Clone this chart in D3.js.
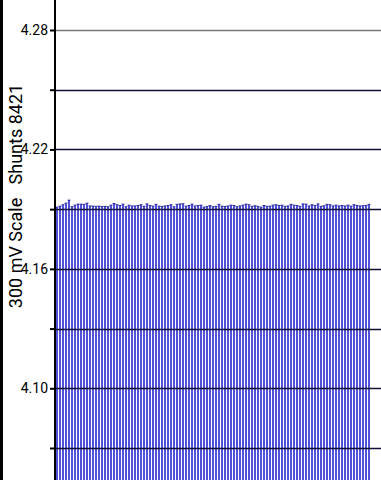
<!DOCTYPE html>
<html>
<head>
<meta charset="utf-8">
<script src="https://cdn.jsdelivr.net/npm/d3@7"></script>
<style>
  body { margin: 0; background: #fff; }
  svg { display: block; font-family: Roboto, "Noto Sans", sans-serif; }
</style>
</head>
<body>
<svg width="381" height="480"></svg>
<script>
var svg = d3.select("svg");
var width = +svg.attr("width"),
    height = +svg.attr("height");

// cell voltages
var voltages = [
  4.1910, 4.1915, 4.1922, 4.1930, 4.1945, 4.1912, 4.1920, 4.1925, 4.1925, 4.1924,
  4.1930, 4.1916, 4.1915, 4.1914, 4.1915, 4.1913, 4.1914, 4.1912, 4.1920, 4.1928,
  4.1922, 4.1918, 4.1925, 4.1912, 4.1920, 4.1916, 4.1916, 4.1918, 4.1922, 4.1914,
  4.1926, 4.1918, 4.1915, 4.1924, 4.1915, 4.1913, 4.1916, 4.1918, 4.1922, 4.1912,
  4.1924, 4.1926, 4.1927, 4.1915, 4.1918, 4.1925, 4.1916, 4.1918, 4.1920, 4.1910,
  4.1913, 4.1918, 4.1912, 4.1914, 4.1924, 4.1915, 4.1913, 4.1916, 4.1920, 4.1918,
  4.1912, 4.1916, 4.1920, 4.1925, 4.1922, 4.1914, 4.1917, 4.1914, 4.1910, 4.1918,
  4.1914, 4.1915, 4.1920, 4.1922, 4.1918, 4.1920, 4.1914, 4.1916, 4.1924, 4.1920,
  4.1918, 4.1914, 4.1926, 4.1925, 4.1916, 4.1922, 4.1918, 4.1926, 4.1914, 4.1917,
  4.1924, 4.1922, 4.1916, 4.1920, 4.1916, 4.1918, 4.1916, 4.1920, 4.1915, 4.1922,
  4.1918, 4.1916, 4.1917, 4.1918, 4.1924
];
var cells = voltages.map((v, i) => i + 1);

var gridValues = [4.28, 4.25, 4.22, 4.19, 4.16, 4.13, 4.10, 4.07];
var labelValues = [4.28, 4.22, 4.16, 4.10];
var axisTitle = "300 mV Scale   Shunts 8421";

var axisX = 55;

var y = d3.scaleLinear()
    .domain([4.07, 4.28])
    .range([448, 30]);

var x = d3.scaleBand()
    .domain(cells)
    .range([axisX + 1, axisX + 1 + cells.length * 3]);

// black strip on the left edge
svg.append("rect")
    .attr("x", 0).attr("y", 0)
    .attr("width", 3).attr("height", height)
    .style("fill", "#000");

// bars, 2px wide on a 3px pitch
svg.append("g").attr("class", "bars")
    .selectAll("rect")
    .data(voltages).enter()
    .append("rect")
    .attr("x", function(d, i) { return Math.round(x(cells[i])); })
    .attr("y", function(d) { return y(d); })
    .attr("width", 2)
    .attr("height", function(d) { return height - y(d); })
    .style("fill", "#5252d8");

// dark cap on each bar
svg.append("g").attr("class", "caps")
    .selectAll("line")
    .data(voltages).enter()
    .append("line")
    .attr("x1", function(d, i) { return Math.round(x(cells[i])) - 0.5; })
    .attr("x2", function(d, i) { return Math.round(x(cells[i])) + 2.5; })
    .attr("y1", function(d) { return y(d); })
    .attr("y2", function(d) { return y(d); })
    .style("stroke", "#2a2a9a")
    .style("stroke-width", 1);

// grid lines
svg.append("g").attr("class", "grid")
    .selectAll("line")
    .data(gridValues).enter()
    .append("line")
    .attr("x1", axisX).attr("x2", width)
    .attr("y1", function(d) { return Math.round(y(d)) + 0.5; })
    .attr("y2", function(d) { return Math.round(y(d)) + 0.5; })
    .style("stroke", function(d) { return d > 4.26 ? "#777" : "#111133"; })
    .style("stroke-width", 1.3);

// y axis
var axis = svg.append("g")
    .attr("transform", "translate(" + axisX + ",0)")
    .call(d3.axisLeft(y)
        .tickValues(gridValues)
        .tickSize(5)
        .tickFormat(function(d) {
            return labelValues.some(v => Math.abs(v - d) < 1e-6) ? d3.format(".2f")(d) : "";
        }));

axis.select(".domain").remove();
axis.selectAll(".tick line").style("stroke", "#000").style("stroke-width", 2);
axis.selectAll(".tick text")
    .attr("x", -7)
    .style("font-size", "14px")
    .style("font-family", "Roboto, sans-serif")
    .style("fill", "#000");

svg.append("line")
    .attr("x1", axisX).attr("x2", axisX)
    .attr("y1", 0).attr("y2", height)
    .style("stroke", "#000")
    .style("stroke-width", 2);

// axis title
svg.append("text")
    .attr("transform", "translate(22,196) rotate(-90)")
    .attr("text-anchor", "middle")
    .style("font-size", "18px")
    .style("fill", "#000")
    .style("white-space", "pre")
    .text(axisTitle);
</script>
</body>
</html>
